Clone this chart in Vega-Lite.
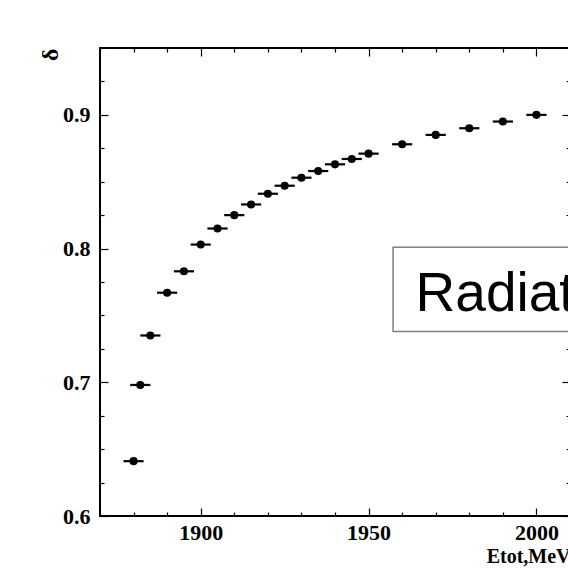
{
  "$schema": "https://vega.github.io/schema/vega-lite/v6.json",
  "width": 470,
  "height": 468,
  "autosize": "none",
  "padding": {"left": 100, "top": 48, "right": 0, "bottom": 56},
  "background": "white",
  "config": {
    "view": {"stroke": "black", "strokeWidth": 2, "fill": "white"},
    "axis": {
      "domain": false,
      "grid": false,
      "tickColor": "black",
      "tickWidth": 1.2,
      "labelFont": "Liberation Serif",
      "labelFontWeight": "bold",
      "labelFontSize": 22,
      "labelColor": "black",
      "labelOverlap": false,
      "labelFlush": false,
      "titleFont": "Liberation Serif",
      "titleFontWeight": "bold",
      "titleFontSize": 21,
      "titleColor": "black"
    }
  },
  "datasets": {
    "delta": [
      {"e": 1880, "lo": 1877, "hi": 1883, "d": 0.641},
      {"e": 1882, "lo": 1879, "hi": 1885, "d": 0.698},
      {"e": 1885, "lo": 1882, "hi": 1888, "d": 0.735},
      {"e": 1890, "lo": 1887, "hi": 1893, "d": 0.767},
      {"e": 1895, "lo": 1892, "hi": 1898, "d": 0.783},
      {"e": 1900, "lo": 1897, "hi": 1903, "d": 0.803},
      {"e": 1905, "lo": 1902, "hi": 1908, "d": 0.815},
      {"e": 1910, "lo": 1907, "hi": 1913, "d": 0.825},
      {"e": 1915, "lo": 1912, "hi": 1918, "d": 0.833},
      {"e": 1920, "lo": 1917, "hi": 1923, "d": 0.841},
      {"e": 1925, "lo": 1922, "hi": 1928, "d": 0.847},
      {"e": 1930, "lo": 1927, "hi": 1933, "d": 0.853},
      {"e": 1935, "lo": 1932, "hi": 1938, "d": 0.858},
      {"e": 1940, "lo": 1937, "hi": 1943, "d": 0.863},
      {"e": 1945, "lo": 1942, "hi": 1948, "d": 0.867},
      {"e": 1950, "lo": 1947, "hi": 1953, "d": 0.871},
      {"e": 1960, "lo": 1957, "hi": 1963, "d": 0.878},
      {"e": 1970, "lo": 1967, "hi": 1973, "d": 0.885},
      {"e": 1980, "lo": 1977, "hi": 1983, "d": 0.890},
      {"e": 1990, "lo": 1987, "hi": 1993, "d": 0.895},
      {"e": 2000, "lo": 1997, "hi": 2003, "d": 0.900}
    ],
    "pave": [
      {"x0": 1957.3, "x1": 2010, "y0": 0.738, "y1": 0.801, "tx": 1964, "ty": 0.7535, "label": "Radiative corrections"}
    ]
  },
  "resolve": {"axis": {"x": "independent", "y": "independent"}},
  "layer": [
    {
      "data": {"name": "delta"},
      "mark": {"type": "rule", "color": "black", "strokeWidth": 2.2},
      "encoding": {
        "x": {
          "field": "lo", "type": "quantitative",
          "scale": {"domain": [1870, 2010], "nice": false, "zero": false},
          "axis": {
            "orient": "bottom",
            "title": "Etot,MeV",
            "titleFontSize": 20,
            "titleAnchor": "end",
            "titleAlign": "right",
            "titleBaseline": "alphabetic",
            "titleX": 470,
            "titleY": 46,
            "values": [1870, 1880, 1890, 1900, 1910, 1920, 1930, 1940, 1950, 1960, 1970, 1980, 1990, 2000, 2010],
            "labelExpr": "datum.value % 50 === 0 ? format(datum.value, 'd') : ''",
            "labelPadding": 14,
            "tickSize": {"condition": {"test": "datum.value % 50 === 0", "value": -8}, "value": -4}
          }
        },
        "x2": {"field": "hi"},
        "y": {
          "field": "d", "type": "quantitative",
          "scale": {"domain": [0.6, 0.95], "nice": false, "zero": false},
          "axis": {
            "orient": "left",
            "title": "δ",
            "titleFontSize": 24,
            "titleAngle": -90,
            "titleAlign": "right",
            "titleBaseline": "middle",
            "titleX": -50,
            "titleY": 0,
            "values": [0.6, 0.625, 0.65, 0.675, 0.7, 0.725, 0.75, 0.775, 0.8, 0.825, 0.85, 0.875, 0.9, 0.925, 0.95],
            "labelExpr": "abs(datum.value * 10 - round(datum.value * 10)) < 0.001 ? format(datum.value, '.1f') : ''",
            "labelPadding": 18,
            "tickSize": {"condition": {"test": "abs(datum.value * 10 - round(datum.value * 10)) < 0.001", "value": -8}, "value": -4}
          }
        }
      }
    },
    {
      "data": {"name": "delta"},
      "mark": {"type": "circle", "color": "black", "opacity": 1, "size": 66},
      "encoding": {
        "x": {
          "field": "e", "type": "quantitative",
          "axis": {
            "orient": "top",
            "title": null,
            "labels": false,
            "values": [1870, 1880, 1890, 1900, 1910, 1920, 1930, 1940, 1950, 1960, 1970, 1980, 1990, 2000, 2010],
            "tickSize": {"condition": {"test": "datum.value % 50 === 0", "value": -8}, "value": -4}
          }
        },
        "y": {
          "field": "d", "type": "quantitative",
          "axis": {
            "orient": "right",
            "title": null,
            "labels": false,
            "values": [0.6, 0.625, 0.65, 0.675, 0.7, 0.725, 0.75, 0.775, 0.8, 0.825, 0.85, 0.875, 0.9, 0.925, 0.95],
            "tickSize": {"condition": {"test": "abs(datum.value * 10 - round(datum.value * 10)) < 0.001", "value": -8}, "value": -4}
          }
        }
      }
    },
    {
      "data": {"name": "pave"},
      "mark": {"type": "rect", "fill": "white", "stroke": "#808080", "strokeWidth": 1.5},
      "encoding": {
        "x": {"field": "x0", "type": "quantitative", "axis": null},
        "x2": {"field": "x1"},
        "y": {"field": "y0", "type": "quantitative", "axis": null},
        "y2": {"field": "y1"}
      }
    },
    {
      "data": {"name": "pave"},
      "mark": {"type": "text", "align": "left", "baseline": "alphabetic", "font": "Liberation Sans", "fontSize": 55, "color": "black"},
      "encoding": {
        "x": {"field": "tx", "type": "quantitative", "axis": null},
        "y": {"field": "ty", "type": "quantitative", "axis": null},
        "text": {"field": "label"}
      }
    }
  ]
}
